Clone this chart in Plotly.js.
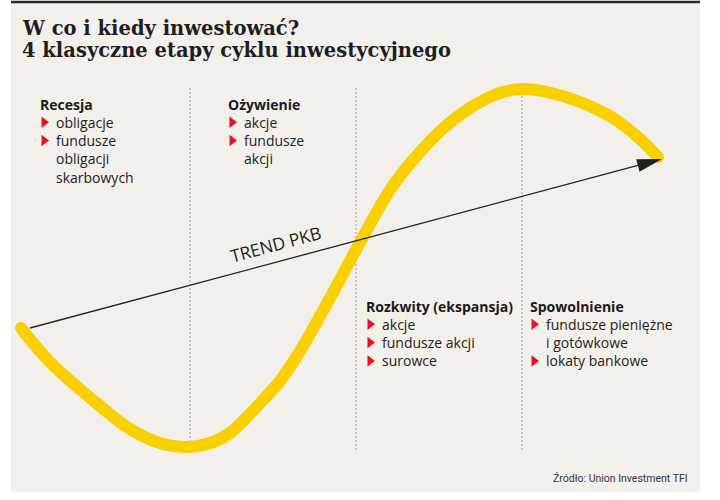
<!DOCTYPE html>
<html>
<head>
<meta charset="utf-8">
<script src="https://cdn.plot.ly/plotly-3.0.1.min.js"></script>
<style>
  html, body { margin: 0; padding: 0; background: #ffffff; }
  #chart { width: 720px; height: 500px; }
</style>
</head>
<body>
<div id="chart"></div>
<script>
// ---- Data ----
// Business-cycle curve: time position vs. activity level
const cycleTime  = [21, 50, 100, 130, 163, 188, 213, 230, 247, 263, 280, 300, 330, 357, 390, 413, 447, 480, 503, 523, 547, 580, 613, 640, 658];
const cycleLevel = [172, 138, 94, 71, 56, 53, 58, 67, 83, 100, 119, 149, 202, 252, 310, 340, 375, 398, 408, 411, 408, 398, 382, 361, 343];

// GDP trend (start and end of the arrow)
const trendTime  = [30, 662];
const trendLevel = [172, 341];
const trendLabel = 'TREND PKB';

// Phase boundaries on the time axis
const phaseBounds = [190, 356, 522];

// Phase names and recommended assets (each asset may wrap onto several lines)
const phaseNames = ['Recesja', 'Ożywienie', 'Rozkwity (ekspansja)', 'Spowolnienie'];
const phaseAssets = [
  [['obligacje'], ['fundusze', 'obligacji', 'skarbowych']],
  [['akcje'], ['fundusze', 'akcji']],
  [['akcje'], ['fundusze akcji'], ['surowce']],
  [['fundusze pieniężne', 'i gotówkowe'], ['lokaty bankowe']]
];

const titleLines = ['W co i kiedy inwestować?', '4 klasyczne etapy cyklu inwestycyjnego'];
const sourceText = 'Źródło: Union Investment TFI';

// ---- Layout / style ----
const W = 720, H = 500;
const bodyFont = 'Open Sans, Noto Sans, sans-serif';
const yellow = '#f8d000';
const red = '#e3141f';
const ink = '#222222';
// block anchor positions (left x, header centre level)
const blockPos = [[40, 396], [228, 396], [366, 194], [530, 194]];
const lineStep = 18.3;

const annotations = [];
const shapes = [];

// background panel and top rule
shapes.push({type: 'rect', xref: 'x', yref: 'y', x0: 11, x1: 700, y0: 8, y1: 497,
  fillcolor: '#f3f0eb', line: {width: 0}, layer: 'below'});
shapes.push({type: 'line', xref: 'x', yref: 'y', x0: 11, x1: 700, y0: 498, y1: 498,
  line: {color: '#2a2a2a', width: 2.5}, layer: 'below'});

// dotted phase separators
phaseBounds.forEach(b => {
  shapes.push({type: 'line', xref: 'x', yref: 'y', x0: b, x1: b, y0: 50, y1: 412,
    line: {color: '#9c9c9c', width: 1, dash: '2px,2px'}, layer: 'below'});
});

// titles
titleLines.forEach((t, i) => {
  annotations.push({xref: 'x', yref: 'y', x: 21, y: [471.5, 450][i], xanchor: 'left', yanchor: 'middle',
    text: '<b>' + t + '</b>', showarrow: false, borderpad: 0,
    font: {family: 'DejaVu Serif, serif', size: 19.5, color: '#1e1e1e'}});
});

// phase text blocks
const bulletX = [], bulletY = [];
phaseNames.forEach((name, p) => {
  const [bx, by] = blockPos[p];
  annotations.push({xref: 'x', yref: 'y', x: bx - 2, y: by, xanchor: 'left', yanchor: 'middle',
    text: '<b>' + name + '</b>', showarrow: false,
    font: {family: bodyFont, size: 14, color: '#1a1a1a'}});
  let line = 1;
  phaseAssets[p].forEach(item => {
    bulletX.push(bx + 4);
    bulletY.push(by - line * lineStep);
    item.forEach(txt => {
      annotations.push({xref: 'x', yref: 'y', x: bx + 13.5, y: by - line * lineStep,
        xanchor: 'left', yanchor: 'middle', text: txt, showarrow: false,
        font: {family: bodyFont, size: 14, color: ink}});
      line++;
    });
  });
});

// trend label
annotations.push({xref: 'x', yref: 'y', x: 275, y: 256, xanchor: 'center', yanchor: 'middle',
  text: trendLabel, showarrow: false, textangle: -15,
  font: {family: bodyFont, size: 17.5, color: ink}});

// source
annotations.push({xref: 'x', yref: 'y', x: 690, y: 22, xanchor: 'right', yanchor: 'middle',
  text: sourceText, showarrow: false,
  font: {family: 'Roboto, sans-serif', size: 10.5, color: '#333333'}});

// arrowhead at the end of the trend (path in data units; 1 unit = 1 px)
const dx = trendTime[1] - trendTime[0], dy = trendLevel[1] - trendLevel[0];
const len = Math.hypot(dx, dy), ux = dx / len, uy = dy / len;
const headL = 25, headW = 13;
const tipX = trendTime[1], tipY = trendLevel[1];
const bX = tipX - headL * ux, bY = tipY - headL * uy;
const nX = -uy, nY = ux;
shapes.push({type: 'path', xref: 'x', yref: 'y',
  path: `M${tipX},${tipY} L${bX + nX * headW / 2},${bY + nY * headW / 2} L${bX - nX * headW / 2},${bY - nY * headW / 2} Z`,
  fillcolor: ink, line: {width: 0}, layer: 'above'});

const traces = [
  { // business cycle curve
    x: cycleTime, y: cycleLevel, mode: 'lines', type: 'scatter',
    line: {color: yellow, width: 12, shape: 'spline', smoothing: 1},
    hoverinfo: 'skip'
  },
  { // rounded caps
    x: [cycleTime[0], cycleTime[cycleTime.length - 1]],
    y: [cycleLevel[0], cycleLevel[cycleLevel.length - 1]],
    mode: 'markers', type: 'scatter',
    marker: {color: yellow, size: 12, line: {width: 0}}, hoverinfo: 'skip'
  },
  { // trend line shaft
    x: [trendTime[0], tipX - (headL - 2) * ux], y: [trendLevel[0], tipY - (headL - 2) * uy],
    mode: 'lines', type: 'scatter',
    line: {color: ink, width: 1.3}, hoverinfo: 'skip'
  },
  { // bullets
    x: bulletX, y: bulletY, mode: 'markers', type: 'scatter',
    marker: {symbol: 'triangle-right', color: red, size: 10, line: {width: 0}},
    hoverinfo: 'skip'
  }
];

const layout = {
  width: W, height: H,
  margin: {l: 0, r: 0, t: 0, b: 0},
  paper_bgcolor: '#ffffff', plot_bgcolor: 'rgba(0,0,0,0)',
  showlegend: false,
  xaxis: {range: [0, W], visible: false, fixedrange: true},
  yaxis: {range: [0, H], visible: false, fixedrange: true},
  shapes: shapes,
  annotations: annotations
};

Plotly.newPlot('chart', traces, layout, {displayModeBar: false, staticPlot: true});
</script>
</body>
</html>
